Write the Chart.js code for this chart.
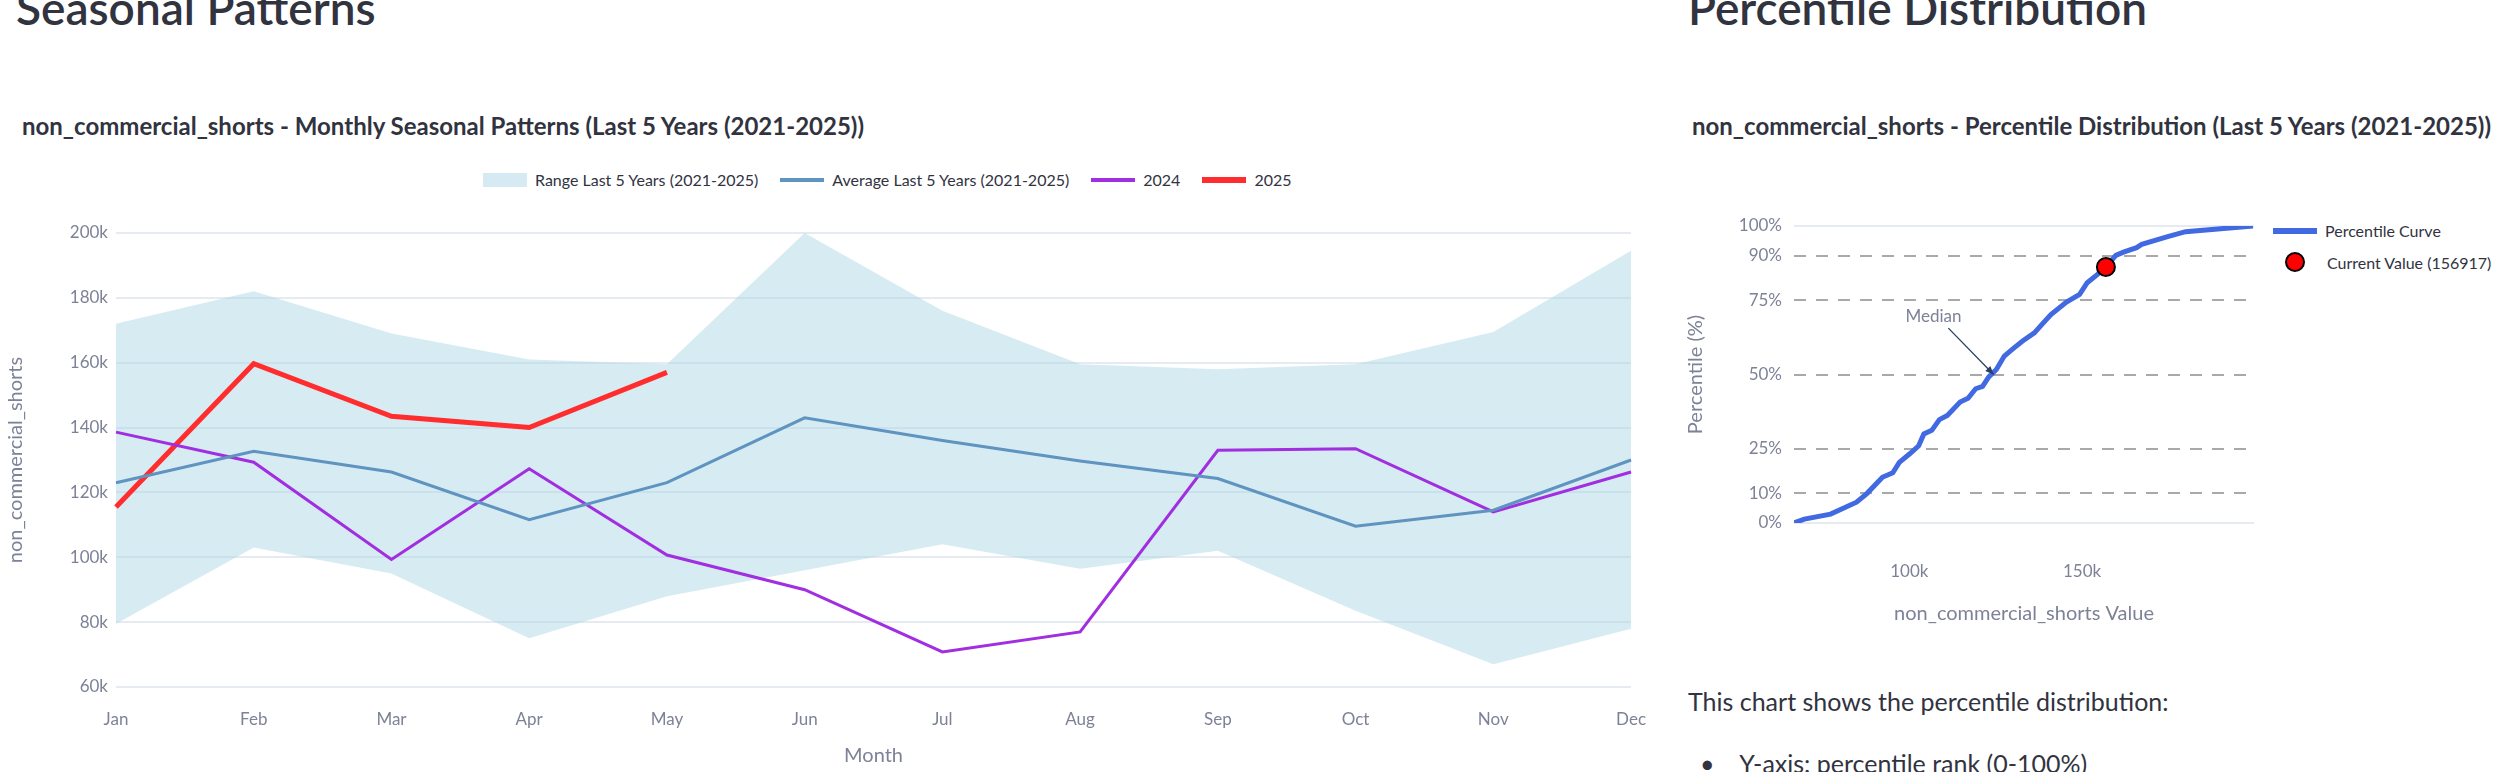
<!DOCTYPE html>
<html>
<head>
<meta charset="utf-8">
<script src="https://cdn.jsdelivr.net/npm/chart.js@4.4.1/dist/chart.umd.min.js"></script>
<style>
  body { margin: 0; width: 2501px; height: 772px; overflow: hidden; background: #fff; font-family: Lato, "Noto Sans", sans-serif; color: #31333f; }
  .abs { position: absolute; }
  .heading { font-size: 46px; font-weight: 600; top: -20px; line-height: 1.2; }
  .ctitle { font-size: 24px; font-weight: 700; top: 111px; }
  .legend { font-size: 16px; display: flex; align-items: center; gap: 8px; white-space: nowrap; }
  .legend span.sw { display: inline-block; width: 44px; }
  .legend .item { display: flex; align-items: center; gap: 8px; margin-right: 14px; }
</style>
</head>
<body>
<div class="abs heading" style="left:16px;">Seasonal Patterns</div>
<div class="abs heading" style="left:1688px;">Percentile Distribution</div>
<div class="abs ctitle" style="left:22px;">non_commercial_shorts - Monthly Seasonal Patterns (Last 5 Years (2021-2025))</div>
<div class="abs ctitle" style="left:1692px;">non_commercial_shorts - Percentile Distribution (Last 5 Years (2021-2025))</div>

<div class="abs legend" style="left:483px; top:170px;">
  <div class="item"><span class="sw" style="height:14px;background:#d6eaf3"></span>Range Last 5 Years (2021-2025)</div>
  <div class="item"><span class="sw" style="height:4px;background:#5f93c0"></span>Average Last 5 Years (2021-2025)</div>
  <div class="item"><span class="sw" style="height:4px;background:#a12ee0"></span>2024</div>
  <div class="item"><span class="sw" style="height:6px;background:#ff2d2d"></span>2025</div>
</div>

<div class="abs legend" style="left:2273px; top:221px; flex-direction:column; align-items:flex-start; gap:12px;">
  <div class="item"><span class="sw" style="height:6px;background:#4169e1"></span>Percentile Curve</div>
  <div class="item"><span style="display:inline-block;width:16px;height:16px;border-radius:50%;background:#ff0000;border:2px solid #000;margin:0 14px 0 12px"></span>Current Value (156917)</div>
</div>

<div class="abs" style="left:0; top:200px; width:1660px; height:572px;"><canvas id="seasonChart"></canvas></div>
<div class="abs" style="left:1680px; top:180px; width:821px; height:450px;"><canvas id="pctChart"></canvas></div>

<div class="abs" style="left:1688px; top:686px; font-size:25px;">This chart shows the percentile distribution:</div>
<div class="abs" style="left:1700px; top:748px; font-size:25px;">&bull;&nbsp;&nbsp;&nbsp;&nbsp;Y-axis: percentile rank (0-100%)</div>

<script>
// Seasonal data
const months = ['Jan', 'Feb', 'Mar', 'Apr', 'May', 'Jun', 'Jul', 'Aug', 'Sep', 'Oct', 'Nov', 'Dec'];
const rangeHigh = [172000, 182000, 169000, 161000, 159500, 200000, 176000, 159500, 158000, 159500, 169500, 194500];
const rangeLow = [79500, 103000, 95000, 75000, 88000, 96000, 104000, 96500, 102000, 83500, 67000, 78000];
const avg5y = [123000, 132700, 126300, 111600, 123000, 143000, 136000, 129700, 124300, 109600, 114500, 130000];
const y2024 = [138600, 129300, 99300, 127300, 100700, 90000, 70800, 77000, 133000, 133500, 114000, 126300];
const y2025 = [115500, 159700, 143500, 140000, 157000];

// Percentile curve (value, percentile)
const curveValues = [66600, 69600, 77200, 84700, 87700, 92200, 95200, 97100, 100200, 102700, 104200, 106500,
    108700, 111000, 114700, 117000, 119200, 121200, 123000, 125200, 127500, 129700, 132700, 136200, 138800,
    141000, 145500, 149300, 151500, 154500, 156900, 159800, 162000, 165800, 167300, 174800, 180000, 199500];
const curvePct = [0, 1.3, 3, 7, 9.9, 15.4, 16.9, 20.4, 23.4, 26, 30, 31.2, 34.8, 36.2, 40.7, 42, 45.2, 46,
    49.2, 51.7, 56.2, 58.4, 61.2, 64, 67.4, 70.2, 74.4, 77, 80.9, 83.7, 86.2, 90.1, 91.2, 92.7, 93.8, 96.4, 98.1, 100];
const currentValue = 156917;
const currentPct = 86.2;
const pctTicks = [0, 10, 25, 50, 75, 90, 100];

const tickColor = '#7d8297';
const gridColor = '#e6ebf2';
const font = { family: 'Lato, "Noto Sans", sans-serif', size: 17 };

Chart.defaults.font.family = font.family;
Chart.defaults.animation = false;

new Chart(document.getElementById('seasonChart'), {
    type: 'line',
    data: {
        labels: months,
        datasets: [
            { label: 'High', data: rangeHigh, borderWidth: 0, pointRadius: 0, backgroundColor: 'rgba(173,216,230,0.5)', fill: '+1' },
            { label: 'Low', data: rangeLow, borderWidth: 0, pointRadius: 0, fill: false },
            { label: 'Average', data: avg5y, borderColor: '#5f93c0', borderWidth: 3, pointRadius: 0 },
            { label: '2024', data: y2024, borderColor: '#a12ee0', borderWidth: 3, pointRadius: 0 },
            { label: '2025', data: y2025, borderColor: '#ff2d2d', borderWidth: 5, pointRadius: 0 }
        ]
    },
    options: {
        responsive: true,
        maintainAspectRatio: false,
        layout: { padding: { top: 33, right: 14, left: 0, bottom: 0 } },
        plugins: {
            legend: { display: false },
            tooltip: { enabled: false },
            filler: { drawTime: 'beforeDatasetsDraw' }
        },
        scales: {
            x: {
                offset: false,
                grid: { display: false },
                border: { display: false },
                ticks: { color: tickColor, font: font, padding: 14, maxRotation: 0 },
                title: { display: true, text: 'Month', color: tickColor, font: { size: 20 }, padding: { top: 8 } },
                afterFit: s => { s.height = 85; }
            },
            y: {
                min: 60000,
                max: 200000,
                ticks: { stepSize: 20000, color: tickColor, font: font, padding: 8, callback: v => (v / 1000) + 'k' },
                grid: { color: gridColor, lineWidth: 2, drawTicks: false },
                border: { display: false },
                title: { display: true, text: 'non_commercial_shorts', color: tickColor, font: { size: 20 } },
                afterFit: s => { s.width = 116; }
            }
        }
    }
});

// Median annotation
const medianNote = {
    id: 'medianNote',
    afterDatasetsDraw(chart) {
        const { ctx, scales: { x, y } } = chart;
        const tipX = x.getPixelForValue(124400), tipY = y.getPixelForValue(50);
        const tailX = x.getPixelForValue(111300), tailY = y.getPixelForValue(65.6);
        ctx.save();
        ctx.strokeStyle = '#2a3f5f';
        ctx.fillStyle = '#2a3f5f';
        ctx.lineWidth = 1.3;
        ctx.beginPath();
        ctx.moveTo(tailX, tailY);
        ctx.lineTo(tipX, tipY);
        ctx.stroke();
        const a = Math.atan2(tipY - tailY, tipX - tailX);
        ctx.beginPath();
        ctx.moveTo(tipX, tipY);
        ctx.lineTo(tipX - 9 * Math.cos(a - 0.4), tipY - 9 * Math.sin(a - 0.4));
        ctx.lineTo(tipX - 9 * Math.cos(a + 0.4), tipY - 9 * Math.sin(a + 0.4));
        ctx.closePath();
        ctx.fill();
        ctx.fillStyle = '#7d8297';
        ctx.font = '17px ' + font.family;
        ctx.textAlign = 'center';
        ctx.textBaseline = 'middle';
        ctx.fillText('Median', x.getPixelForValue(107000), y.getPixelForValue(69.4));
        ctx.restore();
    }
};

new Chart(document.getElementById('pctChart'), {
    type: 'scatter',
    data: {
        datasets: [
            {
                label: 'Current Value (156917)',
                data: [{ x: currentValue, y: currentPct }],
                pointRadius: 9,
                backgroundColor: '#ff0000',
                borderColor: '#000',
                borderWidth: 2
            },
            {
                label: 'Percentile Curve',
                data: curveValues.map((v, i) => ({ x: v, y: curvePct[i] })),
                showLine: true,
                borderColor: '#4169e1',
                borderWidth: 5,
                pointRadius: 0
            }
        ]
    },
    plugins: [medianNote],
    options: {
        responsive: true,
        maintainAspectRatio: false,
        layout: { padding: { top: 46, right: 247, left: 0, bottom: 0 } },
        plugins: { legend: { display: false }, tooltip: { enabled: false } },
        scales: {
            x: {
                type: 'linear',
                min: 66600,
                max: 199800,
                grid: { display: false },
                border: { display: false },
                afterBuildTicks: s => { s.ticks = [{ value: 100000 }, { value: 150000 }]; },
                ticks: { color: tickColor, font: font, padding: 30, callback: v => (v / 1000) + 'k' },
                title: { display: true, text: 'non_commercial_shorts Value', color: tickColor, font: { size: 20 }, padding: { top: 12 } },
                afterFit: s => { s.height = 107; }
            },
            y: {
                min: 0,
                max: 100,
                afterBuildTicks: s => { s.ticks = pctTicks.map(v => ({ value: v })); },
                ticks: { color: tickColor, font: font, padding: 12, callback: v => v + '%' },
                grid: {
                    drawTicks: false,
                    lineWidth: 2,
                    color: c => (c.tick && (c.tick.value === 0 || c.tick.value === 100)) ? gridColor : '#a9a9a9'
                },
                border: {
                    display: false,
                    dash: c => (c.tick && (c.tick.value === 0 || c.tick.value === 100)) ? [] : [12, 10]
                },
                title: { display: true, text: 'Percentile (%)', color: tickColor, font: { size: 20 } },
                afterFit: s => { s.width = 114; }
            }
        }
    }
});
</script>
</body>
</html>
